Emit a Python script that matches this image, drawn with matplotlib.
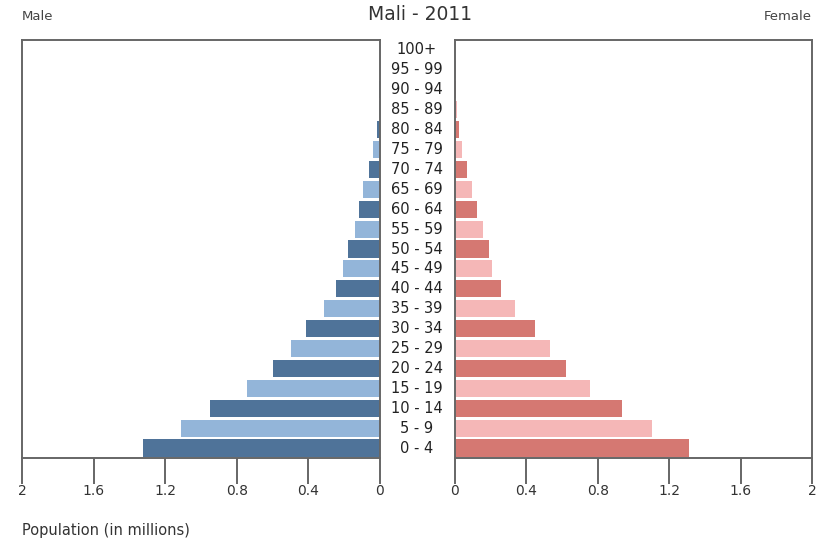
import matplotlib.pyplot as plt
import numpy as np

ages = ['0 - 4', '5 - 9', '10 - 14', '15 - 19', '20 - 24', '25 - 29', '30 - 34',
        '35 - 39', '40 - 44', '45 - 49', '50 - 54', '55 - 59', '60 - 64', '65 - 69',
        '70 - 74', '75 - 79', '80 - 84', '85 - 89', '90 - 94', '95 - 99', '100+']
male = [1.324, 1.112, 0.950, 0.743, 0.598, 0.497, 0.413, 0.313, 0.246, 0.207, 0.179,
        0.140, 0.117, 0.095, 0.061, 0.039, 0.017, 0.008, 0.004, 0.002, 0.001]
female = [1.311, 1.104, 0.936, 0.756, 0.622, 0.532, 0.448, 0.336, 0.258, 0.207, 0.190,
          0.157, 0.123, 0.095, 0.067, 0.039, 0.022, 0.010, 0.005, 0.003, 0.002]
ticks = [0, 0.4, 0.8, 1.2, 1.6, 2]
tick_labels = ['0', '0.4', '0.8', '1.2', '1.6', '2']

W, H = 829, 542
fig = plt.figure(figsize=(W / 100, H / 100), dpi=100)

male_cols = ['#4f7399' if i % 2 == 0 else '#93b5d9' for i in range(len(ages))]
female_cols = ['#d57872' if i % 2 == 0 else '#f5b7b7' for i in range(len(ages))]

axl = fig.add_axes([22 / W, 84 / H, 358 / W, 418 / H])
axr = fig.add_axes([455 / W, 84 / H, 357 / W, 418 / H])

y = np.arange(len(ages))
axl.barh(y, male, height=0.86, color=male_cols)
axr.barh(y, female, height=0.86, color=female_cols)

for ax in (axl, axr):
    ax.set_ylim(-0.5, len(ages) - 0.5)
    ax.set_yticks([])
    ax.set_xticks(ticks)
    ax.set_xticklabels(tick_labels)
    ax.tick_params(axis='x', direction='out', length=19, width=1.4, color='#666666',
                   labelsize=10, labelcolor='#333333', pad=0)
    for s in ax.spines.values():
        s.set_color('#666666')
        s.set_linewidth(1.4)

axl.set_xlim(2, 0)
axr.set_xlim(0, 2)

# age group labels in the middle
for i, a in enumerate(ages):
    fig.text(417 / W, axl.transData.transform((0, i))[1] / H, a, ha='center',
             va='center', fontsize=10.5, color='#222222')

fig.text(420 / W, 1 - 15 / H, 'Mali - 2011', ha='center', va='center',
         fontsize=13.5, color='#333333')
fig.text(22 / W, 1 - 17 / H, 'Male', ha='left', va='center', fontsize=9.5, color='#444444')
fig.text(812 / W, 1 - 17 / H, 'Female', ha='right', va='center', fontsize=9.5, color='#444444')
fig.text(22 / W, 1 - 530 / H, 'Population (in millions)', ha='left', va='center',
         fontsize=10.5, color='#333333')

fig.savefig('out.png', dpi=100)
